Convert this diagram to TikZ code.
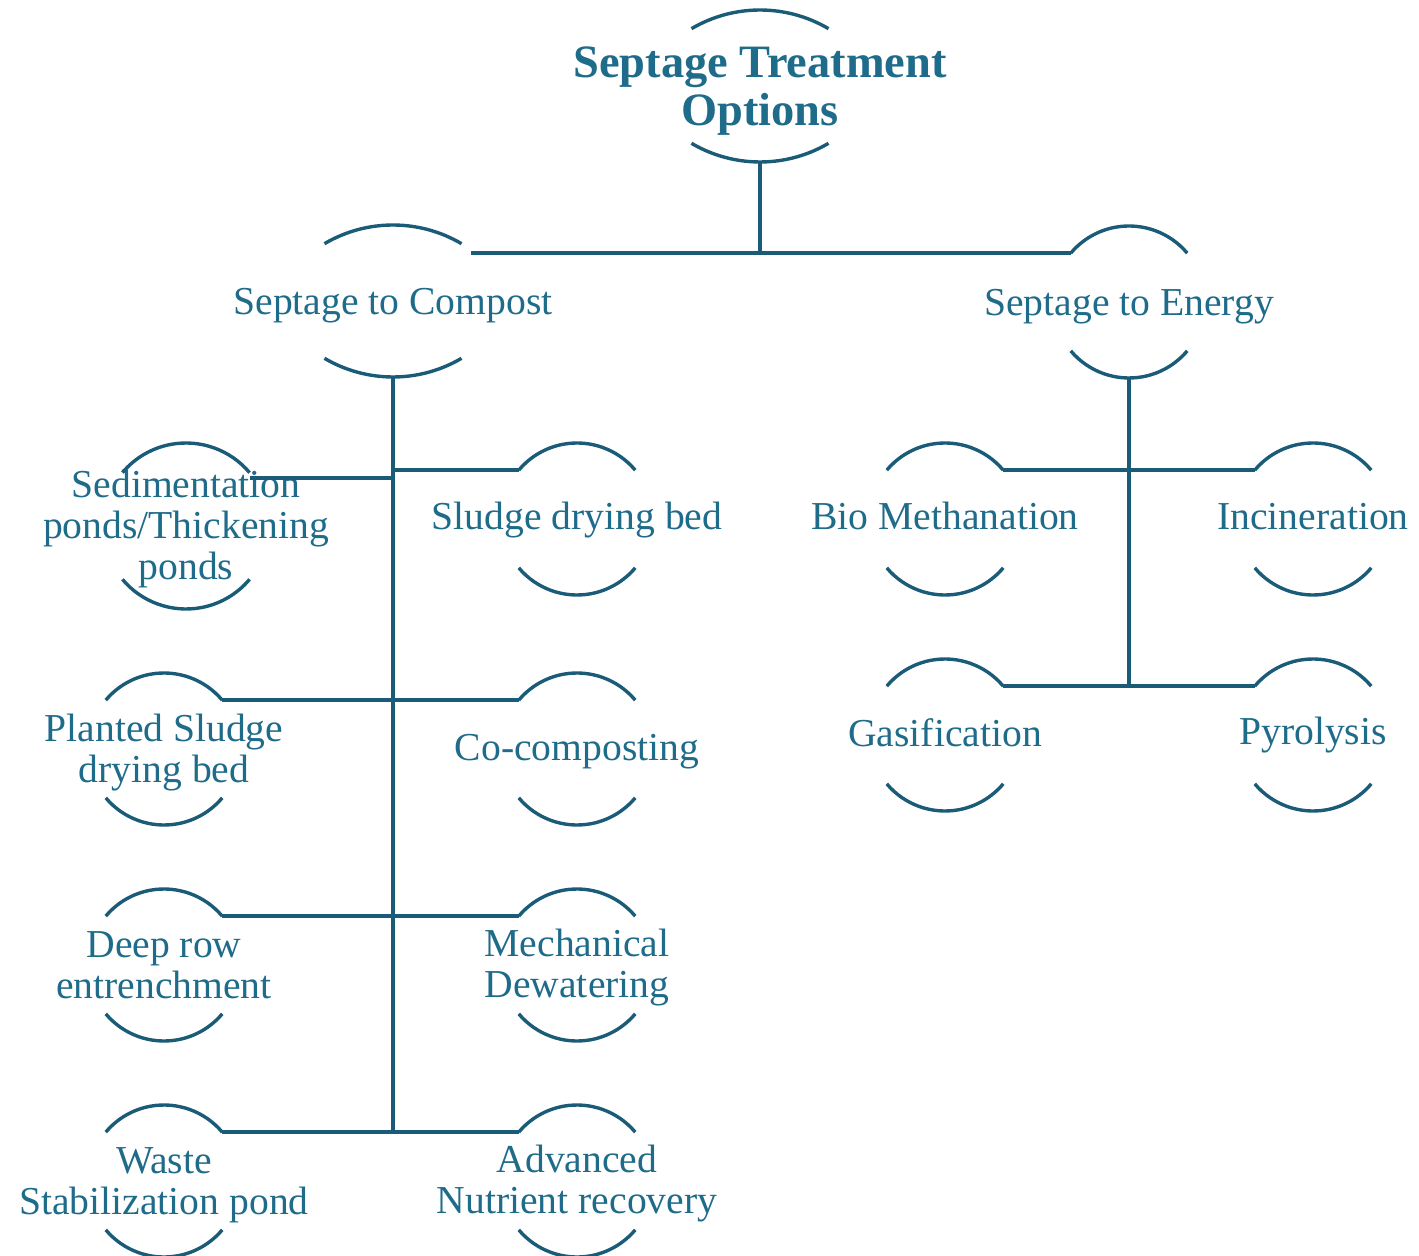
\documentclass[tikz,border=0pt]{standalone}
\usepackage{fontspec}
\setmainfont{Liberation Serif}

\definecolor{rimblue}{HTML}{1A5C78}
\definecolor{inkblue}{HTML}{1E6B8A}

\tikzset{
  rim/.style={draw=rimblue, line width=1.7pt},
  link/.style={draw=rimblue, line width=2pt},
  leaftext/.style={text=inkblue, align=center, inner sep=0pt, font=\fontsize{19.8}{20.5}\selectfont},
  headtext/.style={text=inkblue, align=center, inner sep=0pt, font=\fontsize{23.2}{24}\selectfont\bfseries},
}

\begin{document}
\begin{tikzpicture}[x=0.5pt, y=0.5pt]
    \useasboundingbox (0,0) rectangle (1419,-1256);

    % Root and the two branches
    \node[headtext] (root) at (760,-91) {Septage Treatment\\Options};
    \node[leaftext] (compost) at (393,-306) {Septage to Compost};
    \node[leaftext] (energy) at (1129,-307) {Septage to Energy};

    % Compost options
    \node[leaftext] (sed) at (186,-529) {Sedimentation\\ponds/Thickening\\ponds};
    \node[leaftext] (sdb) at (577,-520) {Sludge drying bed};
    \node[leaftext] (psdb) at (164,-753) {Planted Sludge\\drying bed};
    \node[leaftext] (cocomp) at (577,-752) {Co-composting};
    \node[leaftext] (deep) at (164,-965) {Deep row\\entrenchment};
    \node[leaftext] (mech) at (577,-968) {Mechanical\\Dewatering};
    \node[leaftext] (wsp) at (164,-1185) {Waste\\Stabilization pond};
    \node[leaftext] (anr) at (577,-1184) {Advanced\\Nutrient recovery};

    % Energy options
    \node[leaftext] (bio) at (945,-516) {Bio Methanation};
    \node[leaftext] (inc) at (1313,-517) {Incineration};
    \node[leaftext] (gas) at (945,-733) {Gasification};
    \node[leaftext] (pyr) at (1313,-735) {Pyrolysis};

    % Flat arcs (\dy = text offset below the ring centre)
    \foreach \n/\dy in {root/5, compost/5} {
        \draw[rim] (\n.center) ++(0,\dy-59) ++(59.5:135) arc[start angle=59.5, end angle=120.5, radius=135];
        \draw[rim] (\n.center) ++(0,\dy+59) ++(239.5:135) arc[start angle=239.5, end angle=300.5, radius=135];
        \path (\n.center) ++(0,\dy-76) coordinate (\n-s);
    }

    % Round arcs
    \foreach \n/\rad/\dy in {energy/76/5, sed/83/3, sdb/76/1, psdb/76/4, cocomp/76/3, deep/76/0,
                             mech/76/3, wsp/76/4, anr/76/3, bio/76/-3, inc/76/-2, gas/76/-2, pyr/76/0} {
        \draw[rim] (\n.center) ++(0,\dy) ++(40:\rad) coordinate (\n-ne)
            arc[start angle=40, end angle=140, radius=\rad] coordinate (\n-nw);
        \draw[rim] (\n.center) ++(0,\dy) ++(220:\rad) coordinate (\n-sw)
            arc[start angle=220, end angle=320, radius=\rad] coordinate (\n-se);
        \path (\n.center) ++(0,\dy-\rad) coordinate (\n-s);
    }

    % Connectors
    \coordinate (fork) at (760,-253);
    \coordinate (cmpend) at (471,-253);
    \draw[link] (root-s) -- (fork);
    \draw[link] (cmpend) -- (cmpend -| energy-nw);

    \draw[link] (compost-s) -- (compost-s |- wsp-ne);
    \draw[link] ([yshift=-2.7pt]sed-ne) -- ([yshift=-2.7pt]sed-ne -| compost-s);
    \draw[link] (sdb-nw) -- (sdb-nw -| compost-s);
    \draw[link] (psdb-ne) -- (psdb-ne -| cocomp-nw);
    \draw[link] (deep-ne) -- (deep-ne -| mech-nw);
    \draw[link] (wsp-ne) -- (wsp-ne -| anr-nw);

    \draw[link] (energy-s) -- (energy-s |- gas-ne);
    \draw[link] (bio-ne) -- (bio-ne -| inc-nw);
    \draw[link] (gas-ne) -- (gas-ne -| pyr-nw);
\end{tikzpicture}
\end{document}
